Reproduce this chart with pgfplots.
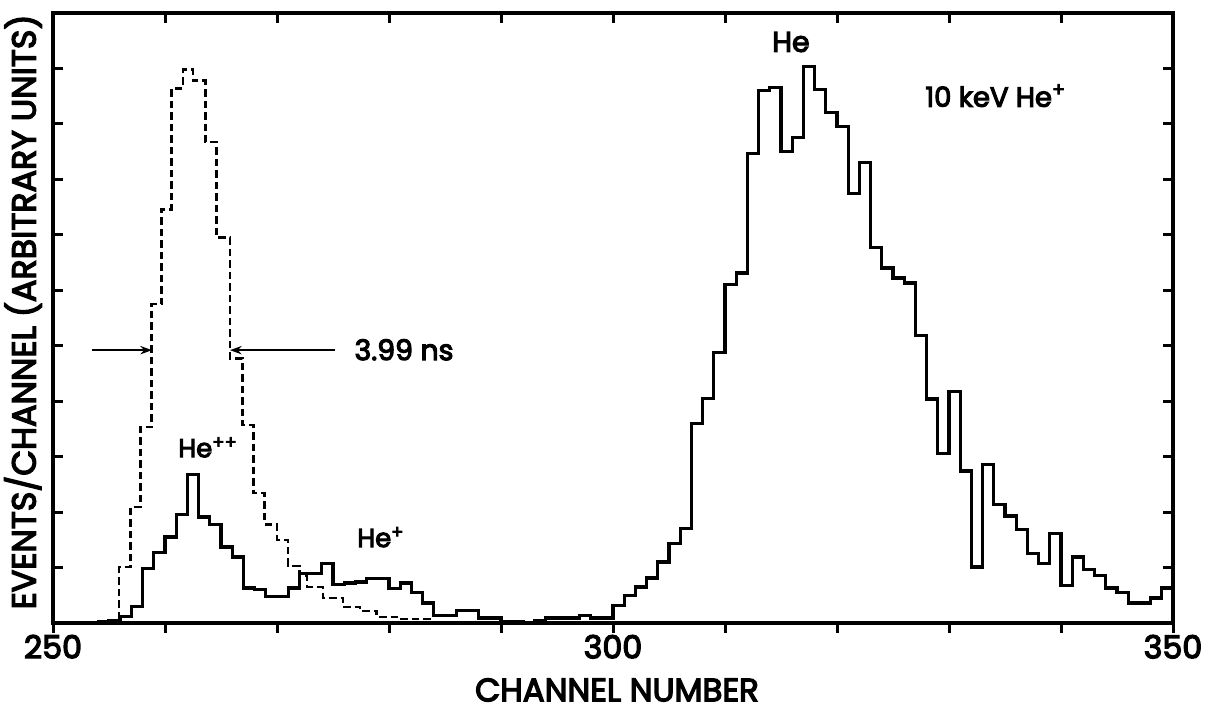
\documentclass[border=0pt]{standalone}
\usepackage{fontspec}
\newfontfamily\lbl{Poppins}[FakeBold=4]
\usepackage{pgfplots}
\pgfplotsset{compat=1.18}
\usetikzlibrary{arrows.meta}

\pgfplotstableread{
x y
253.9 0.02
255 0.05
256 0.12
257 0.30
258 0.98
259 1.27
260 1.55
261 1.95
262 2.68
263 1.91
264 1.78
265 1.37
266 1.19
267 0.63
268 0.61
269 0.48
270 0.48
271 0.63
272 0.89
273 0.89
274 1.07
275 0.69
276 0.72
277 0.74
278 0.80
279 0.80
280 0.62
281 0.72
282 0.55
283 0.36
284 0.13
285 0.13
286 0.23
287 0.23
288 0.09
289 0.09
290 0.03
291 0.02
292 0.00
293 0.04
294 0.09
295 0.09
296 0.09
297 0.13
298 0.09
299 0.09
300 0.32
301 0.49
302 0.65
303 0.81
304 1.10
305 1.44
306 1.71
307 3.60
308 4.05
309 4.88
310 6.11
311 6.31
312 8.47
313 9.60
314 9.66
315 8.50
316 8.76
317 10.04
318 9.62
319 9.21
320 8.95
321 7.75
322 8.31
323 6.77
324 6.40
325 6.22
326 6.13
327 5.19
328 4.04
329 3.06
330 4.18
331 2.74
332 1.01
333 2.86
334 2.14
335 1.93
336 1.68
337 1.26
338 1.08
339 1.62
340 0.68
341 1.19
342 0.97
343 0.86
344 0.63
345 0.55
346 0.36
347 0.36
348 0.45
349 0.63
350 0.63
}\solid

\pgfplotstableread{
x y
254.0 0.04
255.9 1.01
256.9 2.09
257.8 3.53
258.8 5.75
259.7 7.46
260.6 9.64
261.6 9.98
262.5 9.78
263.6 8.67
264.6 6.95
265.8 4.77
266.9 3.57
267.9 2.34
268.9 1.78
270.0 1.50
271.0 1.03
272.0 0.85
272.7 0.65
274.1 0.45
275.9 0.29
277.4 0.22
278.9 0.11
280.7 0.07
283.9 0.07
}\dashed

\begin{document}
\begin{tikzpicture}[x=1pt,y=1pt]
\useasboundingbox (0,0) rectangle (733.2,430.2);
% main axis: data, y ticks both sides, top x ticks inside
\begin{axis}[
  at={(31.8pt,56.4pt)}, anchor=south west,
  scale only axis, width=672pt, height=366pt,
  xmin=250, xmax=350, ymin=0, ymax=11,
  axis line style={line width=2pt},
  tick style={line width=1.8pt, black},
  major tick length=6pt,
  tick align=inside,
  ytick={1,2,...,10}, yticklabels={}, ytick pos=both,
  xtick={250,260,...,350}, xticklabels={}, xtick pos=right,
  clip=false,
]
\addplot[const plot, line width=1.9pt, black] table[x=x,y=y] {\solid};
\addplot[const plot, line width=1.5pt, black, dash pattern=on 4.5pt off 2.4pt] table[x=x,y=y] {\dashed};

\draw[line width=1.3pt, -{Stealth[length=7pt,width=5pt]}] (axis cs:253.5,4.92) -- (axis cs:258.84,4.92);
\draw[line width=1.3pt, -{Stealth[length=7pt,width=5pt]}] (axis cs:275.2,4.92) -- (axis cs:265.8,4.92);

\node[anchor=base west, inner sep=0pt, font=\lbl\fontsize{17}{17}\selectfont] at (axis cs:276.9,4.74) {3.99 ns};
\node[anchor=base west, inner sep=0pt, font=\lbl\fontsize{17}{17}\selectfont] at (axis cs:314.2,10.30) {He};
\node[anchor=base west, inner sep=0pt, font=\lbl\fontsize{16.5}{16.5}\selectfont] at (axis cs:327.86,9.31) {10 keV He\textsuperscript{+}};
\node[anchor=base west, inner sep=0pt, font=\lbl\fontsize{15.5}{15.5}\selectfont] at (axis cs:261.16,2.99) {He\textsuperscript{++}};
\node[anchor=base west, inner sep=0pt, font=\lbl\fontsize{15.5}{15.5}\selectfont] at (axis cs:277.14,1.37) {He\textsuperscript{+}};

\node[rotate=90, anchor=center, inner sep=0pt, font=\lbl\fontsize{20}{20}\selectfont] at (axis description cs:-0.0268,0.51) {EVENTS/CHANNEL (ARBITRARY UNITS)};
\node[anchor=center, inner sep=0pt, font=\lbl\fontsize{19.5}{19.5}\selectfont] at (axis description cs:0.5036,-0.1098) {CHANNEL NUMBER};
\end{axis}
% overlay axis: bottom x ticks outside with labels
\begin{axis}[
  at={(31.8pt,56.4pt)}, anchor=south west,
  scale only axis, width=672pt, height=366pt,
  xmin=250, xmax=350, ymin=0, ymax=11,
  axis line style={line width=2pt},
  tick style={line width=1.8pt, black},
  major tick length=6pt,
  tick align=outside,
  ytick=\empty,
  xtick={250,260,...,350}, xticklabels={250,,,,,300,,,,,350}, xtick pos=left,
  xticklabel style={font=\lbl\fontsize{19}{19}\selectfont, inner sep=0pt, yshift=-1pt},
  /pgf/number format/assume math mode=true,
]
\end{axis}
\end{tikzpicture}
\end{document}
